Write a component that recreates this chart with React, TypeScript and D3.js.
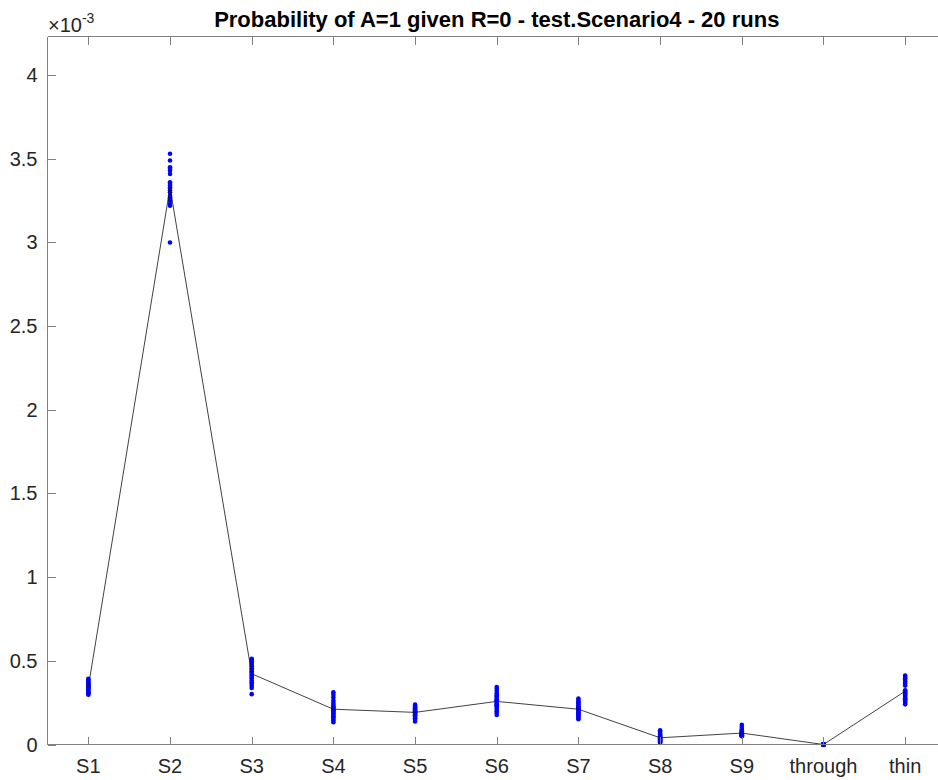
import React from "react";
import * as d3 from "d3";

// values are in units of 1e-3 (axis shows a x10^-3 multiplier)
const categories = ["S1", "S2", "S3", "S4", "S5", "S6", "S7", "S8", "S9", "through", "thin"];

const runsS1 = [0.392, 0.386, 0.381, 0.372, 0.368, 0.361, 0.358, 0.352, 0.349, 0.347, 0.343, 0.339, 0.334, 0.331, 0.326, 0.318, 0.312, 0.307, 0.303, 0.298];
const runsS2 = [3.53, 3.49, 3.45, 3.44, 3.43, 3.41, 3.36, 3.35, 3.34, 3.33, 3.32, 3.31, 3.3, 3.28, 3.27, 3.26, 3.25, 3.23, 3.22, 3.0];
const runsS3 = [0.512, 0.505, 0.498, 0.487, 0.476, 0.468, 0.455, 0.447, 0.438, 0.43, 0.421, 0.412, 0.403, 0.394, 0.383, 0.372, 0.361, 0.35, 0.338, 0.301];
const runsS4 = [0.312, 0.298, 0.281, 0.262, 0.248, 0.236, 0.229, 0.221, 0.214, 0.208, 0.203, 0.197, 0.19, 0.184, 0.177, 0.169, 0.161, 0.152, 0.143, 0.133];
const runsS5 = [0.238, 0.232, 0.226, 0.221, 0.216, 0.211, 0.206, 0.202, 0.198, 0.195, 0.192, 0.188, 0.184, 0.179, 0.175, 0.17, 0.164, 0.157, 0.148, 0.137];
const runsS6 = [0.344, 0.331, 0.319, 0.306, 0.295, 0.287, 0.279, 0.271, 0.265, 0.26, 0.254, 0.248, 0.241, 0.235, 0.228, 0.219, 0.209, 0.198, 0.188, 0.176];
const runsS7 = [0.275, 0.266, 0.257, 0.249, 0.242, 0.236, 0.229, 0.223, 0.217, 0.212, 0.207, 0.202, 0.197, 0.191, 0.185, 0.179, 0.172, 0.166, 0.159, 0.151];
const runsS8 = [0.085, 0.077, 0.069, 0.063, 0.057, 0.052, 0.048, 0.045, 0.042, 0.039, 0.036, 0.033, 0.03, 0.027, 0.024, 0.021, 0.018, 0.015, 0.012, 0.009];
const runsS9 = [0.118, 0.104, 0.092, 0.085, 0.079, 0.074, 0.07, 0.067, 0.065, 0.063, 0.061, 0.059, 0.057, 0.056, 0.055, 0.054, 0.053, 0.052, 0.051, 0.05];
const runsThrough = [0, 0, 0, 0, 0, 0, 0, 0, 0, 0, 0, 0, 0, 0, 0, 0, 0, 0, 0, 0];
const runsThin = [0.412, 0.404, 0.396, 0.387, 0.376, 0.365, 0.352, 0.324, 0.318, 0.311, 0.305, 0.298, 0.291, 0.284, 0.277, 0.27, 0.262, 0.255, 0.248, 0.24];

const allRuns = [runsS1, runsS2, runsS3, runsS4, runsS5, runsS6, runsS7, runsS8, runsS9, runsThrough, runsThin];

const yTicks = [0, 0.5, 1, 1.5, 2, 2.5, 3, 3.5, 4];
const yMax = 4.231;

const title = "Probability of A=1 given R=0 - test.Scenario4 - 20 runs";

export default function App() {
  const width = 938;
  const height = 780;
  const left = 47.5;
  const right = 946;
  const top = 36.5;
  const bottom = 744.5;
  const tickLen = 8;
  const axisColor = "#808080";
  const textColor = "#262626";
  const font = "'Liberation Sans', Arial, Helvetica, sans-serif";

  const x = d3.scaleLinear().domain([0.5, categories.length + 0.5]).range([left, right]);
  const y = d3.scaleLinear().domain([0, yMax]).range([bottom, top]);

  // the black line joins the mean of each category's runs
  const means = allRuns.map((r) => d3.mean(r) as number);
  const line = d3
    .line<number>()
    .x((d, i) => x(i + 1))
    .y((d) => y(d));

  return (
    <svg
      width={width}
      height={height}
      style={{ position: "absolute", left: 0, top: 0, background: "#fff" }}
      fontFamily={font}
    >
      {/* dots */}
      <g fill="#0000ff">
        {allRuns.map((runs, ci) =>
          runs.map((v, ri) => (
            <circle key={`${ci}-${ri}`} cx={x(ci + 1)} cy={y(v)} r={2.3} />
          ))
        )}
      </g>

      {/* mean line */}
      <path d={line(means) || ""} fill="none" stroke="#111" strokeWidth={0.8} />

      {/* box */}
      <g stroke={axisColor} strokeWidth={1} fill="none" shapeRendering="crispEdges">
        <line x1={left} x2={right} y1={bottom} y2={bottom} />
        <line x1={left} x2={right} y1={top} y2={top} />
        <line x1={left} x2={left} y1={top} y2={bottom} />
        <line x1={right} x2={right} y1={top} y2={bottom} />
        {categories.map((c, i) => (
          <g key={c}>
            <line x1={Math.round(x(i + 1)) + 0.5} x2={Math.round(x(i + 1)) + 0.5} y1={bottom} y2={bottom - tickLen} />
            <line x1={Math.round(x(i + 1)) + 0.5} x2={Math.round(x(i + 1)) + 0.5} y1={top} y2={top + tickLen} />
          </g>
        ))}
        {yTicks.map((t) => (
          <g key={t}>
            <line x1={left} x2={left + tickLen} y1={Math.round(y(t)) + 0.5} y2={Math.round(y(t)) + 0.5} />
            <line x1={right} x2={right - tickLen} y1={Math.round(y(t)) + 0.5} y2={Math.round(y(t)) + 0.5} />
          </g>
        ))}
      </g>

      {/* tick labels */}
      <g fill={textColor} fontSize={20}>
        {categories.map((c, i) => (
          <text key={c} x={x(i + 1)} y={773} textAnchor="middle">
            {c}
          </text>
        ))}
        {yTicks.map((t) => (
          <text key={t} x={left - 10} y={y(t)} dy="0.35em" textAnchor="end">
            {String(t)}
          </text>
        ))}
      </g>

      {/* exponent */}
      <text x={48} y={32} fill={textColor} fontSize={20}>
        ×10
        <tspan fontSize={14} dy={-9}>
          -3
        </tspan>
      </text>

      {/* title */}
      <text
        x={(left + right) / 2}
        y={27}
        textAnchor="middle"
        fontSize={22}
        fontWeight="bold"
        fill="#000"
      >
        {title}
      </text>
    </svg>
  );
}
